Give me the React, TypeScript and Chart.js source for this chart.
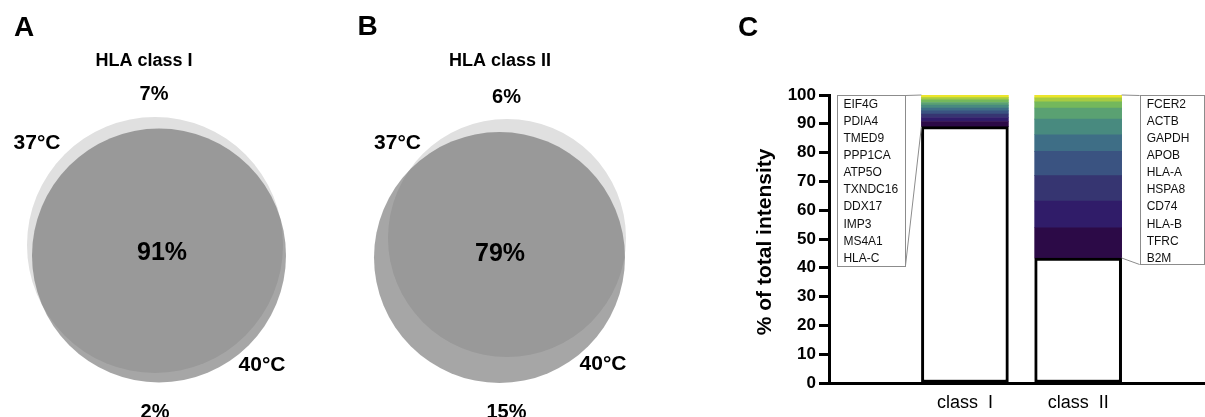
import React, { useEffect, useRef } from 'react';
import { Chart, registerables } from 'chart.js';

Chart.register(...registerables);

const FONT = '"Liberation Sans", Arial, Helvetica, sans-serif';
Chart.defaults.font.family = FONT;

// ---------- Panels A & B: overlap of HLA ligandomes at 37°C vs 40°C ----------
const vennPanels = ['A', 'B'];
const vennTitles = ['HLA class I', 'HLA class II'];
const vennTemps = ['37°C', '40°C'];
const only37Percent = [7, 6];
const sharedPercent = [91, 79];
const only40Percent = [2, 15];
// circle geometry in diagram units (index 0 = 37°C circle, 1 = 40°C circle)
const vennACx = [155, 159];
const vennACy = [245, 255.5];
const vennAR = [128, 127];
const vennBCx = [177, 169.5];
const vennBCy = [238, 257.5];
const vennBR = [119, 125.5];

// ---------- Panel C: share of total intensity ----------
const classLabels = ['class  I', 'class  II'];
const classPositions = [1, 2];
const otherPercent = [89, 43.4];
// genes listed bottom -> top of each stack
const classIGenes = ['HLA-C', 'MS4A1', 'IMP3', 'DDX17', 'TXNDC16', 'ATP5O', 'PPP1CA', 'TMED9', 'PDIA4', 'EIF4G'];
const classIIGenes = ['B2M', 'TFRC', 'HLA-B', 'CD74', 'HSPA8', 'HLA-A', 'APOB', 'GAPDH', 'ACTB', 'FCER2'];
const classIGeneShares = [1.8, 1.4, 1.2, 1.1, 1.0, 1.0, 0.9, 0.9, 0.8, 0.9];
const classIIGeneShares = [10.5, 9.3, 8.8, 8.4, 5.8, 5.4, 3.9, 2.1, 1.4, 1.0];
const rankColors = ['#2c0a47', '#301c69', '#363571', '#3a5381', '#3e6e86', '#488a7f', '#5aa172', '#74b85c', '#a8cc42', '#ece52a'];

// ---------- layout (positions / sizes / styles) ----------
const VENN_W = 330;
const H = 417;
const VENN_LAYOUT = [
  { letter: [24, 28], title: [144, 61.5], top: [154, 94.5], t37: [37, 143], mid: [162, 253], t40: [262, 365], bottom: [155, 412] },
  { letter: [37.5, 27.5], title: [170, 61.5], top: [176.5, 97], t37: [67.5, 143], mid: [170, 254], t40: [273, 364.5], bottom: [176.5, 412] },
];
const VENN_COLORS = ['#e0e0e0', 'rgba(102,102,102,0.58)'];

const C_LEFT = 730;
const C_W = 1205 - C_LEFT;
const CALLOUT_LAYOUT = [
  { side: 'left', gap: 16, width: 68, height: 171, textInset: 6 },
  { side: 'right', gap: 18, width: 64, height: 169, textInset: 7 },
];
const CALLOUT_ROW = { first: 9.5, step: 17.1 };

function VennChart({ index }: { index: number }) {
  const ref = useRef<HTMLCanvasElement>(null);
  useEffect(() => {
    const cx = index === 0 ? vennACx : vennBCx;
    const cy = index === 0 ? vennACy : vennBCy;
    const rr = index === 0 ? vennAR : vennBR;
    const L = VENN_LAYOUT[index];
    const items = [
      { text: vennPanels[index], pos: L.letter, size: 28 },
      { text: vennTitles[index], pos: L.title, size: 18 },
      { text: `${only37Percent[index]}%`, pos: L.top, size: 20 },
      { text: vennTemps[0], pos: L.t37, size: 21 },
      { text: `${sharedPercent[index]}%`, pos: L.mid, size: 25 },
      { text: vennTemps[1], pos: L.t40, size: 21 },
      { text: `${only40Percent[index]}%`, pos: L.bottom, size: 20 },
    ];
    const textPlugin = {
      id: 'vennText',
      afterDatasetsDraw(chart: any) {
        const { ctx, scales } = chart;
        ctx.save();
        ctx.fillStyle = '#000';
        ctx.textAlign = 'center';
        ctx.textBaseline = 'middle';
        items.forEach((it) => {
          ctx.font = `bold ${it.size}px ${FONT}`;
          ctx.fillText(it.text, scales.x.getPixelForValue(it.pos[0]), scales.y.getPixelForValue(it.pos[1]));
        });
        ctx.restore();
      },
    };
    const radiusPx = (ctx: any) => {
      if (!ctx.raw) return 0;
      const s = ctx.chart.scales.x;
      return Math.abs(s.getPixelForValue(ctx.raw.r) - s.getPixelForValue(0));
    };
    const chart = new Chart(ref.current as HTMLCanvasElement, {
      type: 'scatter',
      data: {
        datasets: [
          {
            label: 'circles',
            data: cx.map((x, i) => ({ x, y: cy[i], r: rr[i] })) as any,
            pointRadius: radiusPx as any,
            pointHoverRadius: radiusPx as any,
            backgroundColor: ((ctx: any) => VENN_COLORS[ctx.dataIndex]) as any,
            pointBorderWidth: 0,
            borderWidth: 0,
          },
        ],
      },
      options: {
        animation: false,
        responsive: false,
        events: [],
        layout: { padding: 0 },
        plugins: { legend: { display: false }, tooltip: { enabled: false } },
        scales: {
          x: { type: 'linear', min: 0, max: VENN_W, display: false },
          y: { type: 'linear', min: 0, max: H, reverse: true, display: false },
        },
      } as any,
      plugins: [textPlugin],
    });
    return () => chart.destroy();
  }, [index]);
  return (
    <canvas
      ref={ref}
      width={VENN_W}
      height={H}
      style={{ position: 'absolute', left: index * VENN_W, top: 0, width: VENN_W, height: H }}
    />
  );
}

function StackChart() {
  const ref = useRef<HTMLCanvasElement>(null);
  useEffect(() => {
    const classShares = [classIGeneShares, classIIGeneShares];
    const classGenes = [classIGenes, classIIGenes];
    const datasets: any[] = [
      {
        label: 'other',
        data: classPositions.map((x, i) => ({ x, y: otherPercent[i] })),
        backgroundColor: '#ffffff',
        borderColor: '#000000',
        borderWidth: 3,
        borderSkipped: false,
      },
      ...rankColors.map((color, k) => ({
        label: `rank ${k + 1}`,
        data: classPositions.map((x, i) => ({ x, y: classShares[i][k] })),
        backgroundColor: color,
        borderWidth: 0,
      })),
    ];
    const callouts = {
      id: 'callouts',
      afterDraw(chart: any) {
        const { ctx } = chart;
        const n = chart.data.datasets.length;
        const baseMeta = chart.getDatasetMeta(0);
        const topMeta = chart.getDatasetMeta(n - 1);
        ctx.save();
        CALLOUT_LAYOUT.forEach((L, i) => {
          const base = baseMeta.data[i].getProps(['x', 'y', 'width'], true);
          const top = topMeta.data[i].getProps(['y'], true);
          const dir = L.side === 'left' ? -1 : 1;
          const barEdge = base.x + (dir * base.width) / 2;
          const near = barEdge + dir * L.gap;
          const far = near + dir * L.width;
          const boxLeft = Math.min(near, far);
          const boxTop = top.y;
          const boxBottom = boxTop + L.height;
          ctx.strokeStyle = '#8c8c8c';
          ctx.lineWidth = 1;
          ctx.strokeRect(Math.round(boxLeft) + 0.5, Math.round(boxTop) + 0.5, L.width, L.height);
          ctx.beginPath();
          ctx.moveTo(near, boxTop + 0.5);
          ctx.lineTo(barEdge, top.y);
          ctx.moveTo(near, boxBottom + 0.5);
          ctx.lineTo(barEdge, base.y);
          ctx.stroke();
          ctx.fillStyle = '#111';
          ctx.font = `12px ${FONT}`;
          ctx.textAlign = 'left';
          ctx.textBaseline = 'middle';
          classGenes[i]
            .slice()
            .reverse()
            .forEach((g, r) => ctx.fillText(g, boxLeft + L.textInset, boxTop + CALLOUT_ROW.first + r * CALLOUT_ROW.step));
        });
        ctx.fillStyle = '#000';
        ctx.font = `bold 28px ${FONT}`;
        ctx.textAlign = 'center';
        ctx.textBaseline = 'middle';
        ctx.fillText('C', 18, 28);
        ctx.restore();
      },
    };
    const chart = new Chart(ref.current as HTMLCanvasElement, {
      type: 'bar',
      data: { datasets },
      options: {
        animation: false,
        responsive: false,
        events: [],
        layout: { padding: { top: 95, left: 0, right: 0, bottom: 0 } },
        datasets: { bar: { barThickness: 87 } },
        plugins: { legend: { display: false }, tooltip: { enabled: false } },
        scales: {
          x: {
            type: 'linear',
            min: -0.2,
            max: 3.12,
            stacked: true,
            offset: false,
            grid: { display: false, drawTicks: false, offset: false },
            border: { display: true, color: '#000', width: 3 },
            afterBuildTicks: (s: any) => {
              s.ticks = classPositions.map((v) => ({ value: v }));
            },
            ticks: {
              autoSkip: false,
              maxRotation: 0,
              padding: 9,
              color: '#000',
              font: { size: 18 },
              callback: (_v: any, i: number) => classLabels[i],
            },
            afterFit: (s: any) => {
              s.height = 34;
            },
          },
          y: {
            stacked: true,
            min: 0,
            max: 100,
            ticks: { stepSize: 10, color: '#000', padding: 3, font: { size: 17, weight: 'bold' } },
            grid: { display: true, drawOnChartArea: false, drawTicks: true, tickLength: 10, tickWidth: 3, tickColor: '#000', color: '#000' },
            border: { display: true, color: '#000', width: 3 },
            title: {
              display: true,
              text: '% of total intensity ',
              color: '#000',
              font: { size: 21, weight: 'bold' },
              padding: { top: 23, bottom: 0 },
            },
            afterFit: (s: any) => {
              s.width = 829 - C_LEFT;
            },
          },
        },
      } as any,
      plugins: [callouts],
    });
    return () => chart.destroy();
  }, []);
  return (
    <canvas ref={ref} width={C_W} height={H} style={{ position: 'absolute', left: C_LEFT, top: 0, width: C_W, height: H }} />
  );
}

export default function App() {
  return (
    <div style={{ position: 'absolute', left: 0, top: 0, width: 1205, height: H, overflow: 'hidden', background: '#fff' }}>
      <VennChart index={0} />
      <VennChart index={1} />
      <StackChart />
    </div>
  );
}
